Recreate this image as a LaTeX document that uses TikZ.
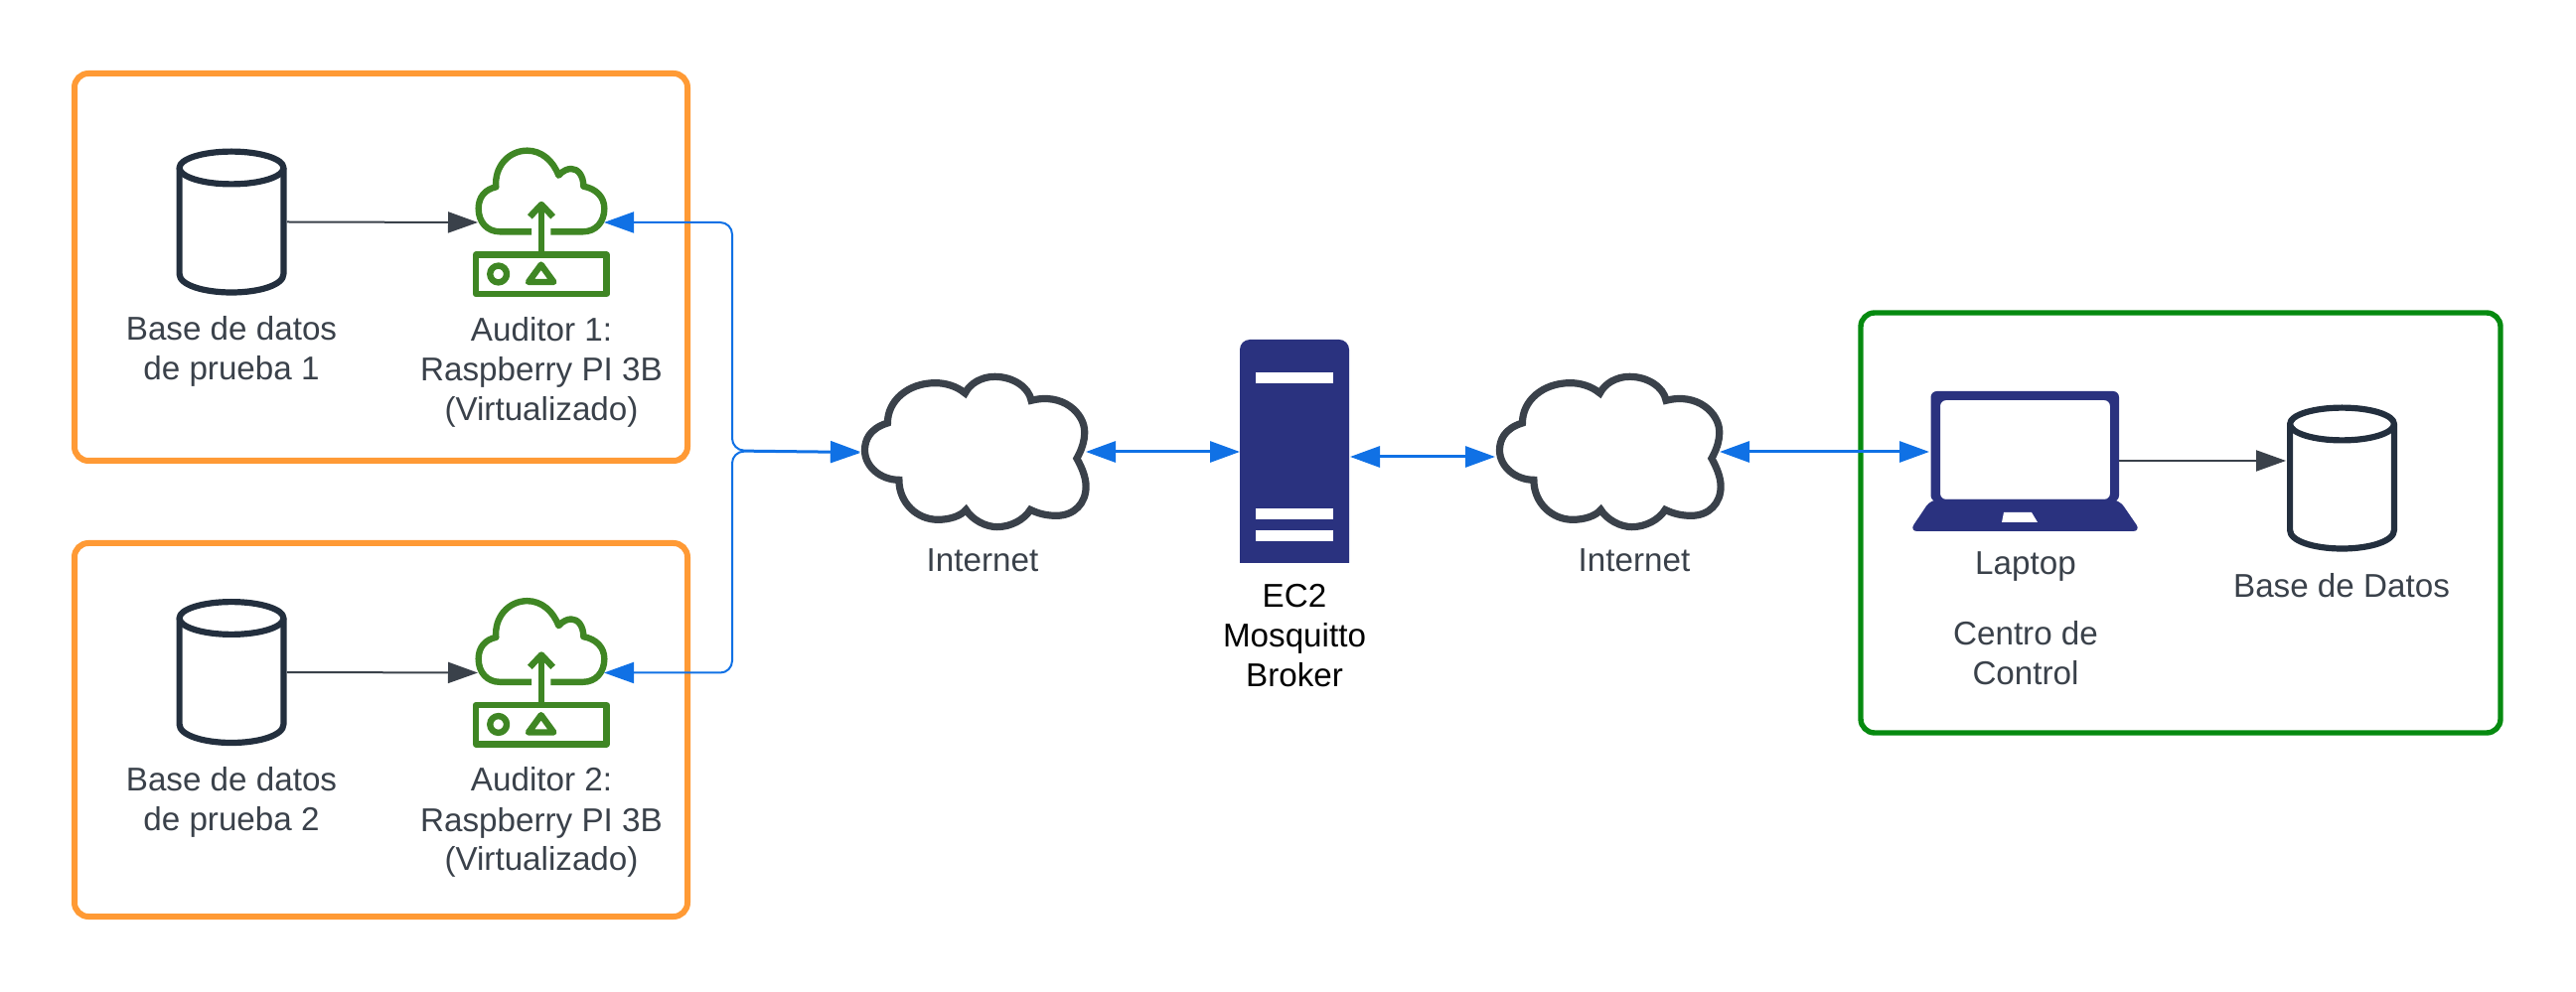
\documentclass[tikz,border=0pt]{standalone}
\usepackage{fontspec}
\setmainfont{Liberation Sans}
\usetikzlibrary{arrows.meta}
\definecolor{boxorange}{HTML}{FF9A35}
\definecolor{boxgreen}{HTML}{068A10}
\definecolor{linkblue}{HTML}{1071E5}
\definecolor{slate}{HTML}{3A414A}
\definecolor{dbdark}{HTML}{232F3E}
\definecolor{awsgreen}{HTML}{3F8624}
\definecolor{navy}{HTML}{2A327F}
\definecolor{txtgray}{HTML}{3A414A}
\tikzset{
  x=0.5pt,y=-0.5pt,
  hold/.style={inner sep=0pt,outer sep=0pt,minimum width=#1},
  lbl/.style={align=center,font=\fontsize{16.6}{20}\selectfont,text=txtgray,inner sep=0pt,anchor=base},
  group/.style={rounded corners=7pt,line width=3pt},
  flow/.style={draw=slate,line width=1pt,-{Triangle[length=15pt,width=10.5pt,fill=slate]}},
  duplex/.style={draw=linkblue,line width=1.5pt,{Triangle[length=15pt,width=10.5pt]}-{Triangle[length=15pt,width=10.5pt]}},
  branch/.style={draw=linkblue,line width=1pt,rounded corners=6pt,{Triangle[length=15pt,width=10.5pt]}-{Triangle[length=15pt,width=10.5pt]}},
  dbicon/.pic={
    \draw[dbdark,line width=3.1pt,line join=round]
      (0,0) ellipse [x radius=26.2pt,y radius=8.2pt];
    \draw[dbdark,line width=3.1pt,line join=round]
      (-52.4,0) -- (-52.4,107) .. controls (-52.4,118) and (-28,125.5) .. (0,125.5)
      .. controls (28,125.5) and (52.4,118) .. (52.4,107) -- (52.4,0);
  },
  auditicon/.pic={
    \begin{scope}[x=0.5pt/3,y=-0.5pt/3,line width=3.2pt,line join=round]
      \draw[awsgreen] (225,280) -- (130,280)
        .. controls (90,280) and (65,250) .. (65,210)
        .. controls (65,175) and (85,152) .. (118,145)
        .. controls (112,85) and (155,35) .. (212,35)
        .. controls (255,35) and (290,65) .. (307,110)
        .. controls (320,95) and (335,90) .. (345,90)
        .. controls (365,90) and (382,110) .. (382,143)
        .. controls (420,150) and (445,175) .. (445,210)
        .. controls (445,250) and (420,280) .. (380,280)
        -- (283,280);
      \draw[awsgreen] (255,345) -- (255,200);
      \draw[awsgreen] (220,235) -- (255,198) -- (290,235);
      \draw[awsgreen] (57,350) rectangle (452,468);
      \draw[awsgreen] (125,408) circle [radius=4.2pt];
      \draw[awsgreen] (254,380) -- (216,432) -- (292,432) -- cycle;
    \end{scope}
  },
  netcloud/.pic={
    \begin{scope}[x=0.5pt/2.178,y=-0.5pt/3]
      \draw[slate,line width=3.6pt,fill=white,line join=miter]
        (465,318) .. controls (425,335) and (415,370) .. (415,400)
        .. controls (415,450) and (450,490) .. (490,490)
        .. controls (490,560) and (530,610) .. (575,610)
        .. controls (600,610) and (625,600) .. (637,580)
        .. controls (650,610) and (680,632) .. (705,632)
        .. controls (735,632) and (765,610) .. (778,580)
        .. controls (800,595) and (820,598) .. (835,598)
        .. controls (875,598) and (900,560) .. (900,510)
        .. controls (900,480) and (890,450) .. (880,425)
        .. controls (890,400) and (897,375) .. (897,345)
        .. controls (897,290) and (850,225) .. (780,250)
        .. controls (775,210) and (740,178) .. (700,178)
        .. controls (670,178) and (645,200) .. (635,228)
        .. controls (615,205) and (590,197) .. (570,197)
        .. controls (510,197) and (465,250) .. (465,318) -- cycle;
    \end{scope}
  },
}
\begin{document}
\begin{tikzpicture}
\useasboundingbox (0,0) rectangle (2593,999);

% group frames
\draw[boxorange,group] (75,74) rectangle (692,464);
\draw[boxorange,group] (75,547) rectangle (692,923);
\draw[boxgreen,group,line width=2.7pt] (1873,315) rectangle (2517,738);

% holder nodes fix the connector ends
\node[hold=112*0.5pt,minimum height=73.5pt] (db1) at (233,223.5) {};
\node[hold=127*0.5pt,minimum height=74.5pt] (aud1) at (544.5,224) {};
\node[hold=112*0.5pt,minimum height=73.5pt] (db2) at (233,677) {};
\node[hold=127*0.5pt,minimum height=74.5pt] (aud2) at (544.5,677.5) {};
\node[hold=227*0.5pt,minimum height=77.5pt] (cloudA) at (979.5,455) {};
\node[hold=226*0.5pt,minimum height=77.5pt] (cloudB) at (1618,455) {};
\node[hold=110*0.5pt,minimum height=112.5pt] (broker) at (1303,455) {};
\node[hold=190*0.5pt,minimum height=70.5pt] (laptop) at (2038,464) {};
\node[hold=110*0.5pt,minimum height=75pt] (db3) at (2357.5,482) {};
\coordinate (trunk) at (737,453.5);
\coordinate (brokerOut) at (1359,460);
\coordinate (cloudBIn) at (1505,460);
\coordinate (laptopIn) at (1942,455);
\coordinate (db3In) at (2301,464);

% icons
\pic at (233,169) {dbicon};
\pic at (233,622.5) {dbicon};
\pic at (2357.5,427) {dbicon};
\pic at (460,140) {auditicon};
\pic at (460,593.5) {auditicon};
\pic at (680,320) {netcloud};
\pic at (1319,320) {netcloud};

% broker
\fill[navy] (1248,567) -- (1248,352) arc [start angle=180,end angle=90,radius=5pt]
  -- (1348,342) arc [start angle=90,end angle=0,radius=5pt] -- (1358,567) -- cycle;
\fill[white] (1264,375) rectangle (1342,386);
\fill[white] (1264,512) rectangle (1342,523);
\fill[white] (1264,534) rectangle (1342,545);

% laptop
\fill[navy,even odd rule,rounded corners=3pt]
  (1943.5,505) -- (1943.5,394) -- (2133,394) -- (2133,505) -- cycle
  (1953,503) -- (2124,503) -- (2124,403) -- (1953,403) -- cycle;
\fill[navy,rounded corners=4pt] (1943.5,503) -- (2133,503) -- (2155,535) -- (1922,535) -- cycle;
\fill[white] (2017,516) -- (2045,516) -- (2051,526) -- (2015,526) -- cycle;

% connectors
\draw[flow] (db1.east) -- (aud1.west);
\draw[flow] (db2.east) -- (aud2.west);
\draw[flow] (laptop.east |- db3In) -- (db3In);
\draw[branch] (aud1.east) -- (trunk |- aud1.east) -- (trunk) -- (cloudA.west);
\draw[branch] (aud2.east) -- (trunk |- aud2.east) -- ([yshift=-0.5pt]trunk) -- ([yshift=-0.5pt]cloudA.west);
\draw[duplex] (cloudA.east) -- (broker.west);
\draw[duplex] (brokerOut) -- (cloudBIn);
\draw[duplex] (cloudB.east) -- (laptopIn);

% labels
\node[lbl] (t1) at (233,383) {Base de datos\\de prueba 1};
\node[lbl] (t2) at (545,423.5) {Auditor 1:\\Raspberry PI 3B\\(Virtualizado)};
\node[lbl] (t3) at (233,836.5) {Base de datos\\de prueba 2};
\node[lbl] (t4) at (545,877) {Auditor 2:\\Raspberry PI 3B\\(Virtualizado)};
\node[lbl] (t5) at (989,575.5) {Internet};
\node[lbl] (t6) at (1645,575.5) {Internet};
\node[lbl,text=black] (t7) at (1303,691.5) {EC2\\Mosquitto\\Broker};
\node[lbl] (t8) at (2039,578.5) {Laptop};
\node[lbl] (t9) at (2039,689.5) {Centro de\\Control};
\node[lbl] (t10) at (2357,601.5) {Base de Datos};
\end{tikzpicture}
\end{document}
